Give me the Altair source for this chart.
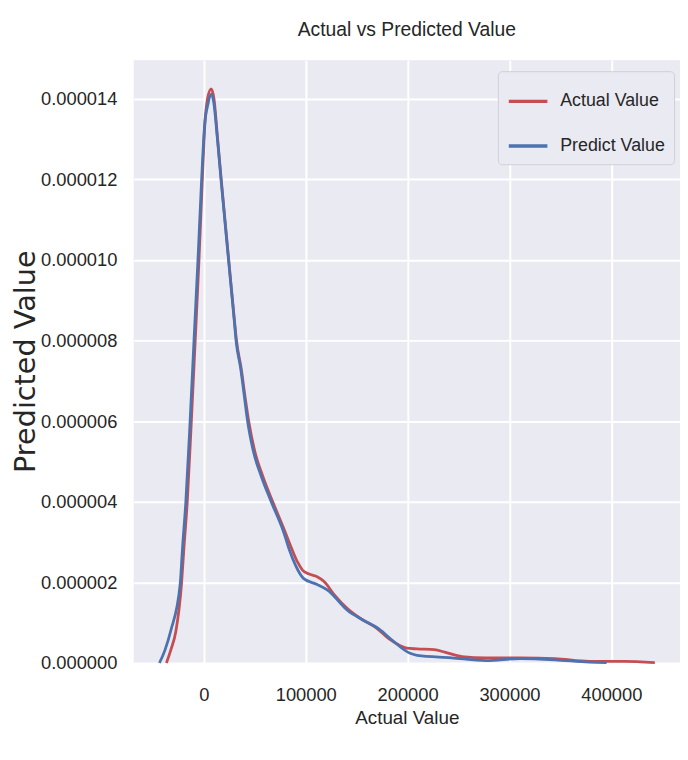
import altair as alt
import pandas as pd

# Density curves, x in thousands, density in units of 1e-6
actual_x = [-36.8, -32.5, -27.4, -22.0, -19.5, -16.3, -12.3, -8.5, -4.8, -1.5, 0.8, 3.6, 7.2, 9.9,
            13.5, 17.0, 24.4, 30.2, 32.0, 36.6, 41.0, 44.0, 49.8, 58.0, 67.6, 79.8, 86.0, 92.0, 97.0,
            104.0, 111.2, 118.0, 128.1, 141.7, 155.2, 168.8, 182.2, 199.1, 209.3, 226.2, 236.4, 253.3,
            277.0, 310.7, 344.6, 378.3, 412.2, 442.7]
actual_y = [0.0, 0.32, 0.80, 1.95, 2.88, 4.0, 6.0, 8.0, 10.0, 12.0, 13.3, 14.0, 14.24, 14.0,
            13.0, 12.0, 10.0, 8.45, 8.0, 7.31, 6.5, 6.0, 5.27, 4.62, 4.0, 3.25, 2.85, 2.5, 2.3,
            2.2, 2.14, 2.02, 1.69, 1.33, 1.08, 0.88, 0.59, 0.37, 0.35, 0.33, 0.27, 0.16,
            0.13, 0.13, 0.11, 0.04, 0.04, 0.01]

predict_x = [-43.6, -38.2, -32.5, -23.3, -20.9, -17.7, -13.5, -9.7, -5.8, -2.2, 0.7, 3.9, 7.4, 9.7,
             13.3, 16.8, 24.2, 30.0, 31.6, 36.1, 40.3, 42.9, 48.4, 56.5, 66.1, 78.3, 84.0, 90.0, 97.7,
             111.2, 121.4, 141.7, 155.2, 172.1, 185.6, 202.5, 209.3, 243.1, 277.0, 310.7, 344.6, 378.3,
             395.3]
predict_y = [0.0, 0.32, 0.80, 1.95, 2.88, 4.0, 6.0, 8.0, 10.0, 12.0, 13.33, 13.85, 14.11, 13.9,
             13.0, 12.0, 10.0, 8.45, 8.0, 7.31, 6.5, 6.0, 5.27, 4.62, 4.0, 3.25, 2.8, 2.42, 2.10,
             1.95, 1.81, 1.29, 1.08, 0.84, 0.55, 0.24, 0.19, 0.13, 0.06, 0.11, 0.08, 0.02,
             0.01]

series = ["Actual Value", "Predict Value"]
colors = ["#c44e52", "#4c72b0"]
x_ticks = [0, 100000, 200000, 300000, 400000]
y_ticks = [0.0, 2e-6, 4e-6, 6e-6, 8e-6, 10e-6, 12e-6, 14e-6]

rows = []
for i, (xs, ys) in enumerate([(actual_x, actual_y), (predict_x, predict_y)]):
    for j, (a, b) in enumerate(zip(xs, ys)):
        rows.append({"x": a * 1000, "y": b * 1e-6, "series": series[i], "order": j})
df = pd.DataFrame(rows)

FONT = "Liberation Sans"
TXT = "#262626"

chart = alt.Chart(df).mark_line(strokeWidth=2.8, interpolate="monotone").encode(
    x=alt.X("x:Q",
            scale=alt.Scale(domain=[-68900, 467400], nice=False, zero=False),
            axis=alt.Axis(values=x_ticks, format="d", title="Actual Value", grid=True,
                          gridColor="white", gridWidth=2, ticks=False, domain=False,
                          labelFont=FONT, labelFontSize=18.5, labelColor=TXT, labelPadding=23,
                          titleFont=FONT, titleFontSize=19, titleColor=TXT, titleFontWeight="normal",
                          titlePadding=5)),
    y=alt.Y("y:Q",
            scale=alt.Scale(domain=[0, 14.95e-6], nice=False, zero=True),
            axis=alt.Axis(values=y_ticks, format=".6f", title="Predicted Value", grid=True,
                          gridColor="white", gridWidth=2, ticks=False, domain=False,
                          labelFont=FONT, labelFontSize=18.5, labelColor=TXT, labelPadding=17,
                          titleFont="DejaVu Sans", titleFontSize=29, titleColor=TXT,
                          titleFontWeight="normal", titleAngle=270, titleX=-109, titleY=304,
                          titleAlign="center", titleBaseline="middle")),
    color=alt.Color("series:N",
                    scale=alt.Scale(domain=series, range=colors),
                    legend=alt.Legend(title=None, orient="none", legendX=368, legendY=11,
                                      symbolType="stroke", symbolSize=1521, symbolStrokeWidth=3.5,
                                      labelFont=FONT, labelFontSize=18, labelColor=TXT,
                                      labelOffset=11, rowPadding=14, padding=9,
                                      fillColor="#eaeaf2", strokeColor="#cfcfd6", cornerRadius=4)),
    order="order:Q",
).properties(
    width=552,
    height=609,
    title=alt.TitleParams("Actual vs Predicted Value", font=FONT, fontSize=19.5, color=TXT,
                          fontWeight="normal", offset=20),
    autosize=alt.AutoSizeParams(type="none"),
    padding={"left": 127, "top": 49, "right": 0, "bottom": 80},
).configure(
    background="white",
    view=alt.ViewConfig(fill="#eaeaf2", stroke=None),
)

chart.save("out.html", embed_options={"renderer": "svg", "actions": False})
